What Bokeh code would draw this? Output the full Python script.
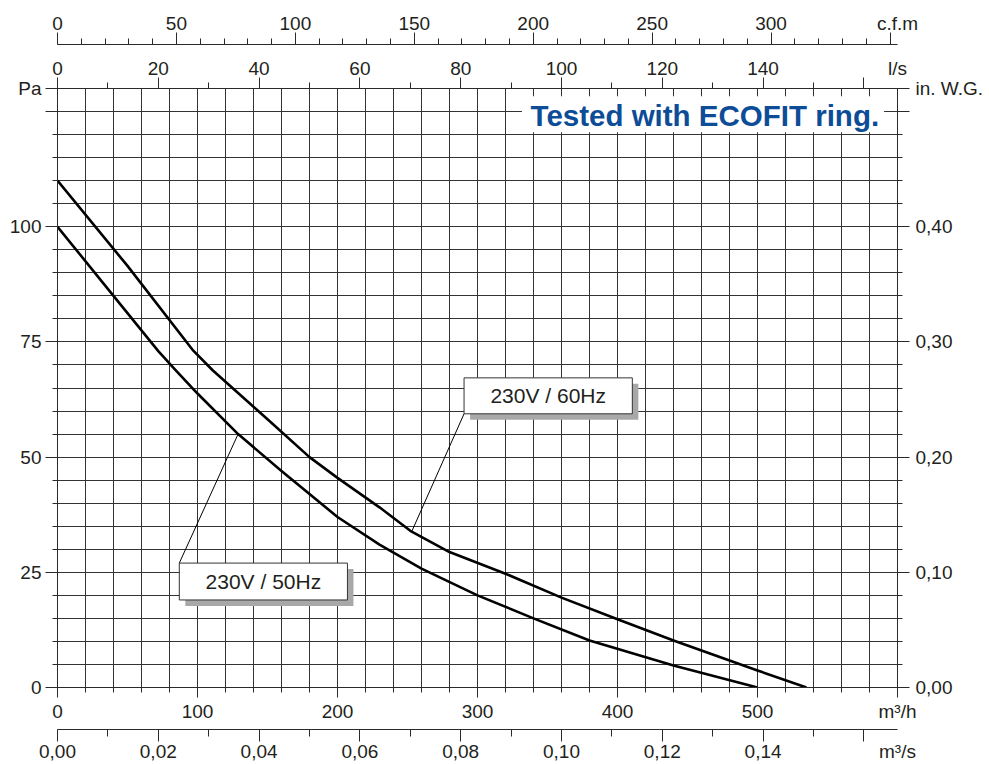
import numpy as np
from bokeh.plotting import figure
from bokeh.models import (LinearAxis, Range1d, FixedTicker, CustomJSTickFormatter)
from bokeh.core.properties import value
from bokeh.embed import file_html
from bokeh.resources import INLINE

# ---------------- data ----------------
flow_60 = [0, 50, 97, 111, 150, 180, 200, 230, 252, 280, 320, 360, 400, 440, 500, 535]   # m3/h
pa_60 = [110, 91.5, 73.1, 68.8, 58.2, 50, 45.5, 39.1, 34, 29.4, 24.7, 19.5, 14.8, 10.2, 3.7, 0]  # Pa
flow_50 = [0, 40, 72, 84, 100, 129, 160, 200, 230, 260, 300, 340, 380, 440, 500]
pa_50 = [100, 85, 73, 69, 63.8, 55, 47, 37, 31, 25.8, 20, 15, 10.2, 4.8, 0]

series_names = ["230V / 60Hz", "230V / 50Hz"]
title_text = "Tested with ECOFIT ring."

# ---------------- unit conversions / ranges ----------------
X_MAX = 600.0   # m3/h
Y_MAX = 130.0   # Pa
M3H_PER_CFM = 1.699
M3H_PER_LS = 3.6
PA_PER_INWG = 250.0
CFM_END = X_MAX / M3H_PER_CFM
LS_END = X_MAX / M3H_PER_LS
M3S_END = X_MAX / 3600.0
INWG_END = Y_MAX / PA_PER_INWG

# tick values and labels
m3h_ticks = [0, 100, 200, 300, 400, 500, 600]
m3h_labels = ["0", "100", "200", "300", "400", "500", "m³/h"]
m3s_ticks = [0, 0.02, 0.04, 0.06, 0.08, 0.10, 0.12, 0.14, 0.16]
m3s_labels = ["0,00", "0,02", "0,04", "0,06", "0,08", "0,10", "0,12", "0,14"]
ls_ticks = [0, 20, 40, 60, 80, 100, 120, 140, 160]
ls_labels = ["0", "20", "40", "60", "80", "100", "120", "140"]
cfm_ticks = [0, 50, 100, 150, 200, 250, 300, 350]
cfm_labels = ["0", "50", "100", "150", "200", "250", "300"]
pa_ticks = [0, 25, 50, 75, 100, 125, 130]
pa_labels = ["0", "25", "50", "75", "100", "", "Pa"]
inwg_ticks = [0, 0.1, 0.2, 0.3, 0.4, 0.5, INWG_END]
inwg_labels = ["0,00", "0,10", "0,20", "0,30", "0,40", "", "in. W.G."]

INK = "#2a2a2a"
TXT = "#231f20"
FONT = "Liberation Sans"
FS = "19px"

p = figure(width=989, height=764, x_range=Range1d(0, X_MAX), y_range=Range1d(0, Y_MAX),
           output_backend="svg", toolbar_location=None,
           min_border_left=57, min_border_right=92, min_border_top=88, min_border_bottom=77)
p.background_fill_color = "white"
p.border_fill_color = "white"
p.outline_line_color = "#222222"
p.outline_line_width = 1

p.extra_x_ranges = {"cfm": Range1d(0, CFM_END), "ls": Range1d(0, LS_END),
                    "m3s": Range1d(0, M3S_END)}
p.extra_y_ranges = {"inwg": Range1d(0, INWG_END)}


def fmt(tvals, tlabels):
    return CustomJSTickFormatter(args=dict(tv=tvals, tl=tlabels), code="""
        for (let i = 0; i < tv.length; i++) {
            if (Math.abs(tv[i] - tick) < 1e-9) return tl[i];
        }
        return "";
    """)


def style(ax, tvals, minor, tlabels, tick_out, minor_out, standoff):
    ax.ticker = FixedTicker(ticks=list(tvals), minor_ticks=[float(m) for m in minor])
    ax.formatter = fmt(list(tvals), tlabels)
    ax.axis_line_color = INK
    ax.major_tick_line_color = INK
    ax.minor_tick_line_color = INK
    ax.major_tick_in = 0
    ax.minor_tick_in = 0
    ax.major_tick_out = tick_out
    ax.minor_tick_out = minor_out
    ax.major_label_standoff = standoff
    ax.major_label_text_font = FONT
    ax.major_label_text_font_size = FS
    ax.major_label_text_color = TXT
    ax.major_label_orientation = "horizontal"


def ticks_only(ax):
    ax.formatter = fmt([], [])
    ax.major_label_text_font_size = "1px"
    ax.major_label_standoff = 0


def labels_only(ax):
    ax.axis_line_color = None
    ax.major_tick_line_color = None
    ax.minor_tick_line_color = None
    ax.major_tick_out = 0
    ax.minor_tick_out = 0


def spacer(ax, gap):
    ax.axis_label = " "
    ax.axis_label_text_font_size = "1px"
    ax.axis_label_standoff = gap


# ---- bottom: m3/h (default axis), then m3/s ticks, then m3/s labels
ax_m3h = p.xaxis[0]
style(ax_m3h, m3h_ticks, np.arange(0, 601, 20), m3h_labels, 10, 5, 3)
spacer(ax_m3h, 1)

ax_m3s_t = LinearAxis(x_range_name="m3s")
style(ax_m3s_t, m3s_ticks, np.round(np.arange(0, 0.1601, 0.01), 3), [], 12, 7, 0)
ticks_only(ax_m3s_t)
p.add_layout(ax_m3s_t, "below")

ax_m3s_l = LinearAxis(x_range_name="m3s")
style(ax_m3s_l, m3s_ticks[:-1] + [M3S_END], [], m3s_labels + ["m³/s"], 0, 0, -1)
labels_only(ax_m3s_l)
p.add_layout(ax_m3s_l, "below")

# ---- top: l/s ticks, l/s labels, cfm ticks, cfm labels
ax_ls_t = LinearAxis(x_range_name="ls")
style(ax_ls_t, ls_ticks, np.arange(0, 161, 10), [], 11, 6, 0)
ticks_only(ax_ls_t)
p.add_layout(ax_ls_t, "above")

ax_ls_l = LinearAxis(x_range_name="ls")
style(ax_ls_l, ls_ticks[:-1] + [LS_END], [], ls_labels + ["l/s"], 0, 0, -1)
labels_only(ax_ls_l)
spacer(ax_ls_l, 6)
p.add_layout(ax_ls_l, "above")

ax_cfm_t = LinearAxis(x_range_name="cfm")
style(ax_cfm_t, cfm_ticks, np.arange(0, 351, 10), [], 12, 6, 0)
ticks_only(ax_cfm_t)
p.add_layout(ax_cfm_t, "above")

ax_cfm_l = LinearAxis(x_range_name="cfm")
style(ax_cfm_l, cfm_ticks[:-1] + [CFM_END], [], cfm_labels + ["c.f.m"], 0, 0, -1)
labels_only(ax_cfm_l)
p.add_layout(ax_cfm_l, "above")

# ---- left: Pa
ax_pa = p.yaxis[0]
style(ax_pa, pa_ticks, np.arange(0, 131, 5), pa_labels, 12, 5, 4)

# ---- right: in. W.G.
ax_in = LinearAxis(y_range_name="inwg")
style(ax_in, inwg_ticks, np.round(np.arange(0, 0.5201, 0.02), 3), inwg_labels, 12, 5, 6)
p.add_layout(ax_in, "right")

# ---- grid
p.xgrid.ticker = FixedTicker(ticks=[float(v) for v in np.arange(0, 601, 20)])
p.ygrid.ticker = FixedTicker(ticks=[float(v) for v in np.arange(0, 131, 5)])
p.xgrid.grid_line_color = "#333333"
p.ygrid.grid_line_color = "#333333"
p.xgrid.grid_line_width = 1
p.ygrid.grid_line_width = 1

# ---- title with white backing box
p.quad(left=[331.8], right=[590.4], bottom=[120.5], top=[128.3],
       fill_color="white", line_color=None)
p.text(x=[337.9], y=[124.2], text=[title_text],
       text_font=value(FONT), text_font_style="bold", text_font_size="29.5px",
       text_color="#0d4c97", text_align="left", text_baseline="middle")

# ---- curves
p.line(flow_60, pa_60, line_width=2.6, line_color="black", line_join="round")
p.line(flow_50, pa_50, line_width=2.6, line_color="black", line_join="round")

# ---- callout boxes (layout positions in data units)
box_left = [290.4, 87.0]
box_right = [410.6, 207.1]
box_bottom = [59.4, 19.0]
box_top = [67.2, 27.0]
anchor_flow = [253, 129]
dx, dy = 4.3, 1.3

y60 = float(np.interp(anchor_flow[0], flow_60, pa_60))
y50 = float(np.interp(anchor_flow[1], flow_50, pa_50))
p.segment(x0=[box_left[0], box_left[1]], y0=[box_bottom[0], box_top[1]],
          x1=[anchor_flow[0], anchor_flow[1]], y1=[y60, y50],
          line_color="black", line_width=1)

p.quad(left=[l + dx for l in box_left], right=[r + dx for r in box_right],
       bottom=[b - dy for b in box_bottom], top=[t - dy for t in box_top],
       fill_color="#a8a8a8", line_color=None)
p.quad(left=box_left, right=box_right, bottom=box_bottom, top=box_top,
       fill_color="white", line_color="#333333", line_width=1)
p.text(x=[(l + r) / 2 for l, r in zip(box_left, box_right)],
       y=[(b + t) / 2 for b, t in zip(box_bottom, box_top)],
       text=series_names, text_font=value(FONT), text_font_size="21px",
       text_color=TXT, text_align="center", text_baseline="middle")

open("out.html", "w").write(file_html(p, INLINE))
